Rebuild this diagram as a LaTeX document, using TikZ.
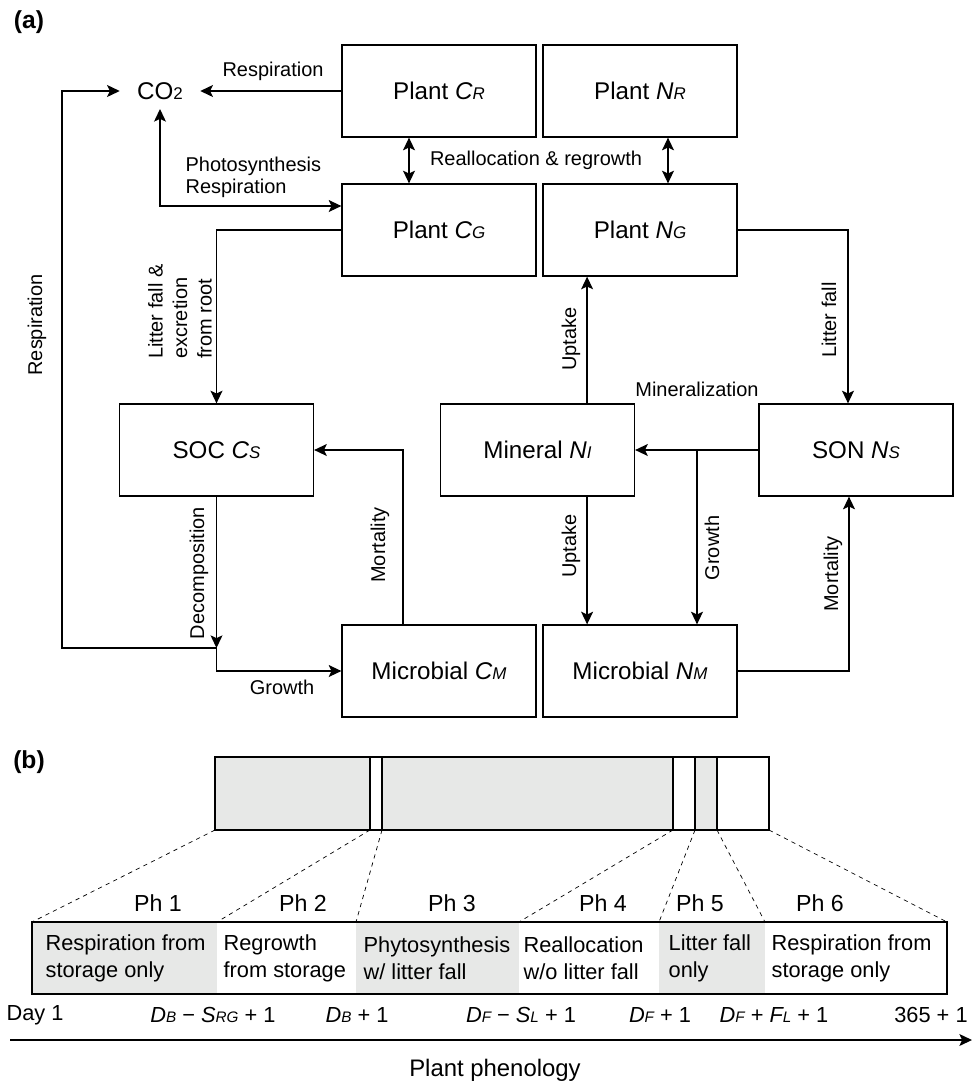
\documentclass[tikz,border=0pt]{standalone}
\usepackage{fontspec}
\setmainfont{Liberation Sans}
\usetikzlibrary{arrows.meta, positioning, calc}
\definecolor{phasegray}{RGB}{231,232,231}
\newcommand{\stock}[2]{\textit{#1\scalebox{0.7}{#2}}}

\begin{document}
\begin{tikzpicture}[
  line width=0.9pt,
  >={Stealth[length=9pt,width=8.5pt,inset=2pt]},
  pool/.style={draw, minimum width=4.85cm, minimum height=2.3cm, inner sep=0pt, font=\fontsize{17.2}{21}\selectfont},
  flow/.style={inner sep=1pt, font=\fontsize{14.2}{16.5}\selectfont},
  phase/.style={inner sep=1pt, font=\fontsize{16.5}{19}\selectfont},
  stage/.style={inner sep=1pt, anchor=west, align=left, font=\fontsize{15.5}{19.2}\selectfont},
  daymark/.style={inner sep=1pt, font=\fontsize{15.5}{18}\selectfont},
  panel/.style={inner sep=0pt, font=\fontsize{17.5}{20}\selectfont\bfseries}
]
\useasboundingbox (0,0) rectangle (24.325,-27.15);

% Panel labels
\node[panel] (panelA) at (0.725,-0.55) {(a)};
\node[panel] (panelB) at (0.725,-19.05) {(b)};

% Carbon and nitrogen pools
\node[pool] (cr) at (10.975,-2.275) {Plant \stock{C}{R}};
\node[pool] (nr) at (16.0,-2.275) {Plant \stock{N}{R}};
\node[pool] (cg) at (10.975,-5.75) {Plant \stock{C}{G}};
\node[pool] (ng) at (16.0,-5.75) {Plant \stock{N}{G}};
\node[pool] (soc) at (5.4125,-11.25) {SOC \stock{C}{S}};
\node[pool] (mineral) at (13.4375,-11.25) {Mineral \stock{N}{I}};
\node[pool] (son) at (21.4,-11.25) {SON \stock{N}{S}};
\node[pool] (cm) at (10.975,-16.775) {Microbial \stock{C}{M}};
\node[pool] (nm) at (16.0,-16.775) {Microbial \stock{N}{M}};
\node[flow, inner xsep=0.42cm, inner ysep=0.22cm] (co2) at (4.0,-2.275) {\fontsize{17.2}{21}\selectfont CO\scalebox{0.7}{2}};

% Junctions
\coordinate (split) at (5.4125,-16.2);
\coordinate (loopcorner) at (1.55,-16.2);
\coordinate (branch) at (17.425,-11.25);

% Carbon fluxes
\draw[->] (cr.west) -- (co2.east);
\draw[<->] (co2.south) |- ([yshift=0.6cm]cg.west);
\draw[<->] ([xshift=-0.75cm]cr.south) -- ([xshift=-0.75cm]cg.north);
\draw[->] (cg.west) -| (soc.north);
\draw[->] (soc.south) -- (split);
\draw[->] (split) -- (loopcorner) |- (co2.west);
\draw[->] (split) |- (cm.west);
\draw[->] ([xshift=-0.9cm]cm.north) |- (soc.east);

% Nitrogen fluxes
\draw[<->] ([xshift=0.7cm]nr.south) -- ([xshift=0.7cm]ng.north);
\draw[->] (ng.east) -| ([xshift=-0.2cm]son.north);
\draw[->] ([xshift=1.24cm]mineral.north) -- ([xshift=1.24cm]mineral.north |- ng.south);
\draw[->] (son.west) -- (mineral.east);
\draw[->] (branch) -- (branch |- nm.north);
\draw[->] ([xshift=1.24cm]mineral.south) -- ([xshift=1.24cm]mineral.south |- nm.north);
\draw[->] (nm.east) -| ([xshift=-0.175cm]son.south);

% Flux labels
\node[flow] (lresp) at (6.825,-1.775) {Respiration};
\node[flow, anchor=west, align=left, font=\fontsize{14.2}{15.8}\selectfont] (lphoto) at (4.59,-4.425) {Photosynthesis\\Respiration};
\node[flow] (lrealloc) at (13.4,-4.02) {Reallocation \& regrowth};
\node[flow, rotate=90, align=left, font=\fontsize{14.2}{17.4}\selectfont] (llitter) at (4.5,-7.79) {Litter fall \&\\excretion\\from root};
\node[flow, rotate=90] (lloop) at (0.925,-8.125) {Respiration};
\node[flow, rotate=90] (ldecomp) at (4.975,-14.325) {Decomposition};
\node[flow] (lgrowthc) at (7.05,-17.175) {Growth};
\node[flow, rotate=90] (lmortc) at (9.5,-13.625) {Mortality};
\node[flow, rotate=90] (llitterfall) at (20.725,-8.0) {Litter fall};
\node[flow, rotate=90] (luptakeg) at (14.275,-8.475) {Uptake};
\node[flow] (lmineral) at (17.425,-9.725) {Mineralization};
\node[flow, rotate=90] (lgrowthn) at (17.8,-13.7) {Growth};
\node[flow, rotate=90] (luptakem) at (14.275,-13.65) {Uptake};
\node[flow, rotate=90] (lmortn) at (20.825,-14.35) {Mortality};

% Phenology bar (year)
\foreach \l/\r/\c in {5.375/9.25/phasegray, 9.25/9.55/white, 9.55/16.825/phasegray,
                      16.825/17.375/white, 17.375/17.925/phasegray, 17.925/19.225/white}
  \draw[fill=\c] (\l,-18.925) rectangle (\r,-20.75);

% Phase table
\foreach \l/\r/\c in {0.8/5.425/phasegray, 5.425/8.9/white, 8.9/12.975/phasegray,
                      12.975/16.475/white, 16.475/19.125/phasegray, 19.125/23.675/white}
  \fill[\c] (\l,-23.05) rectangle (\r,-24.85);
\draw (0.8,-23.05) rectangle (23.675,-24.85);

% Zoom lines
\foreach \a/\b in {5.375/0.8, 9.25/5.425, 9.55/8.9, 16.825/12.975, 17.375/16.475, 17.925/19.125, 19.225/23.675}
  \draw[dashed, line width=0.5pt, dash pattern=on 3pt off 3pt] (\a,-20.75) -- (\b,-23.05);

\foreach \x [count=\i] in {3.95, 7.575, 11.3, 15.075, 17.5, 20.5}
  \node[phase] (ph\i) at (\x,-22.575) {Ph \i};

\node[stage] (st1) at (1.09,-23.96) {Respiration from\\storage only};
\node[stage] (st2) at (5.54,-23.96) {Regrowth\\from storage};
\node[stage] (st3) at (9.04,-23.96) {Phytosynthesis\\w/ litter fall};
\node[stage] (st4) at (13.04,-23.96) {Reallocation\\w/o litter fall};
\node[stage] (st5) at (16.665,-23.96) {Litter fall\\only};
\node[stage] (st6) at (19.24,-23.96) {Respiration from\\storage only};

% Day marks
\node[daymark] (d1) at (0.875,-25.375) {Day 1};
\node[daymark] (d2) at (5.325,-25.375) {\stock{D}{B} − \stock{S}{RG} + 1};
\node[daymark] (d3) at (8.925,-25.375) {\stock{D}{B} + 1};
\node[daymark] (d4) at (13.025,-25.375) {\stock{D}{F} − \stock{S}{L} + 1};
\node[daymark] (d5) at (16.5,-25.375) {\stock{D}{F} + 1};
\node[daymark] (d6) at (19.35,-25.375) {\stock{D}{F} + \stock{F}{L} + 1};
\node[daymark] (d7) at (23.275,-25.375) {365 + 1};

% Time axis
\coordinate (tstart) at (0.25,-26);
\coordinate (tend) at (24.3,-26);
\draw[->] (tstart) -- (tend);
\node[daymark, font=\fontsize{17}{20}\selectfont] (axislabel) at (12.375,-26.75) {Plant phenology};

\end{tikzpicture}
\end{document}
